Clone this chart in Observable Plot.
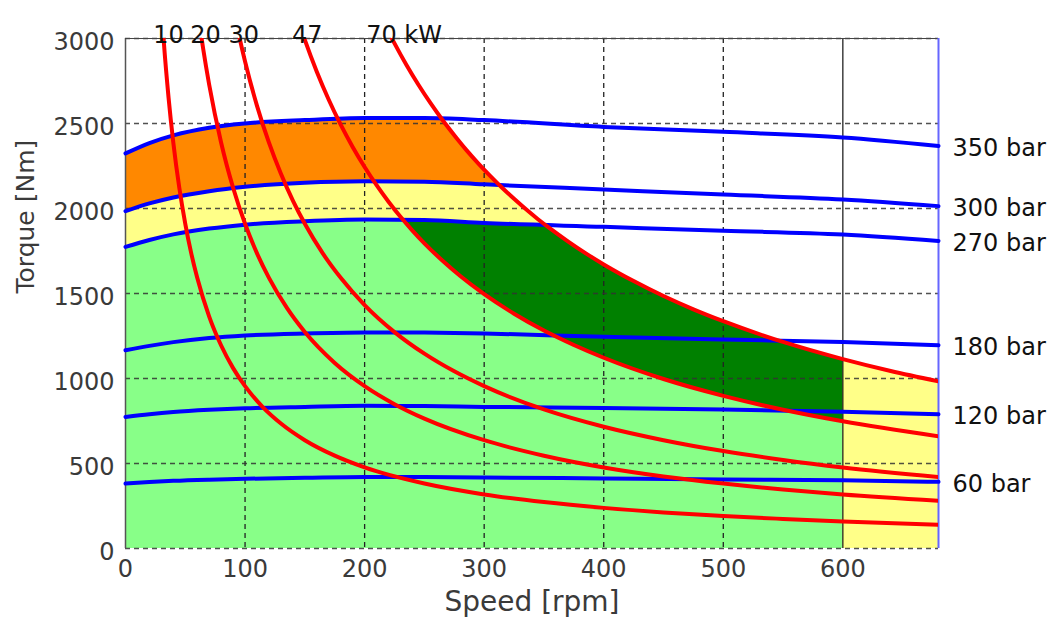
<!DOCTYPE html>
<html>
<head>
<meta charset="utf-8">
<script src="https://cdn.jsdelivr.net/npm/d3@7"></script>
<script src="https://cdn.jsdelivr.net/npm/@observablehq/plot@0.6"></script>
<style>
  html, body { margin: 0; padding: 0; background: #fff; }
  #chart { width: 1051px; height: 622px; }
</style>
</head>
<body>
<div id="chart"></div>
<script>
// ---------- data ----------
const xTicks = [0, 100, 200, 300, 400, 500, 600];
const yTicks = [0, 500, 1000, 1500, 2000, 2500, 3000];

// hydraulic pressure curves (torque vs speed)
const pressureLabels = ["350 bar", "300 bar", "270 bar", "180 bar", "120 bar", "60 bar"];
const pressureSpeed = [0, 20, 40, 70, 100, 150, 200, 250, 300, 400, 500, 600, 680];
const p350 = [2324, 2385, 2430, 2475, 2500, 2520, 2532, 2532, 2520, 2480, 2451, 2418, 2368];
const p300 = [1984, 2030, 2065, 2102, 2128, 2152, 2161, 2158, 2142, 2112, 2082, 2053, 2014];
const p270 = [1774, 1815, 1848, 1882, 1905, 1925, 1935, 1932, 1915, 1892, 1869, 1847, 1809];
const p180 = [1166, 1192, 1214, 1238, 1253, 1265, 1271, 1270, 1265, 1245, 1229, 1215, 1196];
const p120 = [774, 790, 803, 816, 825, 833, 839, 838, 833, 827, 818, 804, 790];
const p60  = [382, 391, 398, 405, 410, 416, 421, 420, 418, 412, 406, 402, 392];

// constant power curves
const powerLabels = ["10", "20", "30", "47", "70 kW"];
const powerLabelSpeed = [36, 67, 99, 152, 233];
const kw10Speed  = [28, 32, 36, 40, 45, 50, 55, 60, 70, 80, 90, 100, 115, 130, 150, 175, 200, 250, 300, 350, 400, 450, 500, 550, 600, 680];
const kw10Torque = [3410, 2984, 2653, 2387, 2122, 1910, 1736, 1592, 1364, 1194, 1061, 955, 830, 735, 637, 546, 477, 382, 318, 273, 239, 212, 191, 174, 159, 140];
const kw20Speed  = [60, 65, 70, 80, 90, 100, 110, 120, 135, 150, 175, 200, 225, 250, 300, 350, 400, 450, 500, 550, 600, 680];
const kw20Torque = [3183, 2938, 2728, 2387, 2122, 1910, 1736, 1592, 1415, 1273, 1091, 955, 849, 764, 637, 546, 477, 424, 382, 347, 318, 281];
const kw30Speed  = [90, 95, 100, 110, 120, 130, 140, 150, 165, 180, 200, 225, 250, 275, 300, 350, 400, 450, 500, 550, 600, 680];
const kw30Torque = [3183, 3016, 2865, 2604, 2387, 2204, 2046, 1910, 1736, 1592, 1432, 1273, 1146, 1042, 955, 818, 716, 637, 573, 521, 477, 421];
const kw47Speed  = [145, 150, 160, 170, 180, 190, 200, 210, 220, 230, 240, 250, 265, 280, 300, 325, 350, 375, 400, 450, 500, 550, 600, 680];
const kw47Torque = [3095, 2992, 2805, 2640, 2493, 2362, 2244, 2137, 2040, 1951, 1870, 1795, 1694, 1603, 1496, 1381, 1282, 1197, 1122, 997, 898, 816, 748, 660];
const kw70Speed  = [215, 225, 235, 245, 255, 265, 275, 285, 295, 305, 315, 325, 335, 345, 355, 370, 385, 400, 425, 450, 475, 500, 550, 600, 640, 680];
const kw70Torque = [3109, 2971, 2844, 2728, 2621, 2522, 2431, 2345, 2266, 2192, 2122, 2057, 1995, 1937, 1883, 1807, 1736, 1671, 1573, 1485, 1407, 1337, 1215, 1114, 1044, 983];

const speedMax = 680;
const ratedSpeed = 600;

// ---------- derived tables ----------
const pressureSeries = [p350, p300, p270, p180, p120, p60];
const pressureRows = pressureSeries.flatMap((arr, k) =>
  arr.map((t, i) => ({ s: pressureSpeed[i], t, k })));
const powerSets = [[kw10Speed, kw10Torque], [kw20Speed, kw20Torque], [kw30Speed, kw30Torque], [kw47Speed, kw47Torque], [kw70Speed, kw70Torque]];
const powerRows = powerSets.flatMap(([sp, tq], k) => sp.map((s, i) => ({ s, t: tq[i], k })));
const pressureEnds = pressureSeries.map((arr, k) => ({ label: pressureLabels[k], t: arr[arr.length - 1] }));

const lin = (sp, tq) => d3.scaleLinear().domain(sp).range(tq);
const P350 = lin(pressureSpeed, p350), P300 = lin(pressureSpeed, p300), P270 = lin(pressureSpeed, p270);
const K47 = lin(kw47Speed, kw47Torque), K70 = lin(kw70Speed, kw70Torque);
const rows = d3.range(0, speedMax + 0.5, 1).map(s => ({
  s, a: P270(s), b: P300(s), c: P350(s), k47: K47(s), k70: K70(s)
}));
const leftRows = rows.filter(r => r.s <= ratedSpeed);
const rightRows = rows.filter(r => r.s >= ratedSpeed);

const fontMain = "DejaVu Sans";
const dash = "5,4";

const chart = Plot.plot({
  width: 1051,
  height: 622,
  marginLeft: 125,
  marginRight: 113,
  marginTop: 38,
  marginBottom: 74,
  style: { fontFamily: fontMain, fontSize: "22px", background: "white", color: "#333" },
  x: { domain: [0, speedMax], axis: null },
  y: { domain: [0, 3000], axis: null },
  marks: [
    // filled regions
    Plot.areaY(leftRows, { x: "s", y1: 0, y2: r => Math.min(r.a, r.k70), fill: "#88ff88", curve: "linear" }),
    Plot.areaY(rightRows, { x: "s", y1: 0, y2: r => r.k70, fill: "#ffff88", curve: "linear" }),
    Plot.areaY(rows, { x: "s", y1: r => r.a, y2: r => Math.max(r.a, Math.min(r.b, r.k70)), fill: "#ffff88", curve: "linear" }),
    Plot.areaY(rows, { x: "s", y1: r => r.b, y2: r => Math.max(r.b, Math.min(r.c, r.k70)), fill: "#ff8800", curve: "linear" }),
    Plot.areaY(leftRows, { x: "s", y1: r => r.k47, y2: r => Math.max(r.k47, Math.min(r.a, r.k70)), fill: "#008000", curve: "linear" }),

    // grid
    Plot.ruleX(xTicks.filter(v => v > 0 && v < ratedSpeed), { x: d => d, stroke: "#222", strokeWidth: 1.3, strokeDasharray: dash }),
    Plot.ruleY(yTicks, { y: d => d, stroke: "#333", strokeWidth: 1.3, strokeOpacity: 0.85, strokeDasharray: dash }),
    Plot.ruleX([ratedSpeed], { x: d => d, stroke: "#111", strokeWidth: 1.2 }),

    // frame
    Plot.ruleX([0], { x: d => d, stroke: "#555", strokeWidth: 1.5 }),
    Plot.ruleY([3000], { y: d => d, stroke: "#444", strokeWidth: 1.2 }),
    Plot.ruleX([speedMax], { x: d => d, stroke: "#6666ff", strokeWidth: 2 }),

    // pressure curves
    Plot.line(pressureRows, { x: "s", y: "t", z: "k", stroke: "#0000ff", strokeWidth: 4, curve: "monotone-x" }),
    // power curves
    Plot.line(powerRows, { x: "s", y: "t", z: "k", stroke: "#ff0000", strokeWidth: 4, curve: "monotone-x", clip: true }),

    // tick labels
    Plot.text(xTicks, { x: d => d, frameAnchor: "bottom", dy: 28, text: d => String(d), fill: "#3a3a3a", fontSize: 24 }),
    Plot.text(yTicks, { y: d => d, frameAnchor: "left", textAnchor: "end", dx: -11, dy: 4, text: d => String(d), fill: "#3a3a3a", fontSize: 24 }),

    // axis titles
    Plot.text(["Speed [rpm]"], { frameAnchor: "bottom", dy: 62, text: d => d, fill: "#3a3a3a", fontSize: 28 }),
    Plot.text(["Torque [Nm]"], { frameAnchor: "left", rotate: -90, dx: -100, text: d => d, fill: "#3a3a3a", fontSize: 25 }),

    // power labels above frame
    Plot.text(powerLabels, { x: (d, i) => powerLabelSpeed[i], frameAnchor: "top", dy: -13, text: d => d, fill: "#111", fontSize: 24 }),

    // pressure labels on the right
    Plot.text(pressureEnds, { y: "t", frameAnchor: "right", textAnchor: "start", dx: 14, dy: 2, text: "label", fill: "#111", fontSize: 24 })
  ]
});

document.getElementById("chart").appendChild(chart);
</script>
</body>
</html>
